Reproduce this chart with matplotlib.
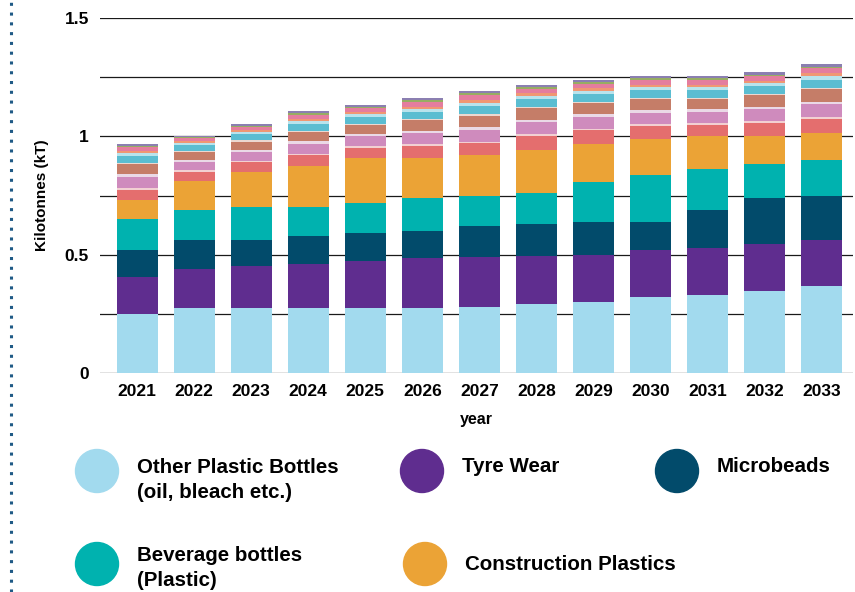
import numpy as np
import matplotlib.pyplot as plt
from matplotlib.patches import Ellipse
from matplotlib.lines import Line2D

plt.rcParams['font.family'] = ['Liberation Sans', 'DejaVu Sans']

years = ['2021', '2022', '2023', '2024', '2025', '2026', '2027',
         '2028', '2029', '2030', '2031', '2032', '2033']

# main sources (kT)
other_bottles = [0.250, 0.276, 0.276, 0.276, 0.276, 0.276, 0.280, 0.293, 0.300, 0.320, 0.330, 0.345, 0.366]
tyre_wear     = [0.155, 0.164, 0.177, 0.184, 0.199, 0.211, 0.210, 0.202, 0.200, 0.200, 0.200, 0.200, 0.194]
microbeads    = [0.115, 0.120, 0.107, 0.120, 0.115, 0.113, 0.130, 0.135, 0.140, 0.120, 0.160, 0.195, 0.190]
beverage      = [0.130, 0.130, 0.140, 0.120, 0.130, 0.140, 0.130, 0.130, 0.166, 0.195, 0.170, 0.143, 0.150]
construction  = [0.080, 0.120, 0.150, 0.175, 0.187, 0.170, 0.170, 0.184, 0.162, 0.155, 0.140, 0.117, 0.116]

# smaller sources stacked on top
minor_1  = [0.045, 0.041, 0.041, 0.045, 0.045, 0.049, 0.050, 0.057, 0.057, 0.053, 0.049, 0.057, 0.058]
minor_2  = [0.008, 0.006, 0.006, 0.007, 0.007, 0.008, 0.008, 0.008, 0.008, 0.008, 0.008, 0.008, 0.008]
minor_3  = [0.045, 0.035, 0.038, 0.042, 0.042, 0.046, 0.050, 0.050, 0.050, 0.049, 0.047, 0.050, 0.053]
minor_4  = [0.012, 0.008, 0.008, 0.010, 0.010, 0.010, 0.011, 0.011, 0.011, 0.011, 0.010, 0.010, 0.010]
minor_5  = [0.041, 0.033, 0.035, 0.040, 0.038, 0.044, 0.049, 0.048, 0.047, 0.047, 0.045, 0.048, 0.053]
minor_6  = [0.005, 0.005, 0.005, 0.005, 0.005, 0.005, 0.005, 0.005, 0.005, 0.005, 0.005, 0.005, 0.005]
minor_7  = [0.030, 0.025, 0.026, 0.030, 0.029, 0.032, 0.035, 0.034, 0.033, 0.033, 0.032, 0.033, 0.037]
minor_8  = [0.012, 0.010, 0.010, 0.012, 0.012, 0.013, 0.014, 0.014, 0.014, 0.013, 0.013, 0.013, 0.015]
minor_9  = [0.008, 0.007, 0.007, 0.008, 0.008, 0.009, 0.010, 0.010, 0.010, 0.010, 0.010, 0.010, 0.012]
minor_10 = [0.020, 0.012, 0.014, 0.018, 0.017, 0.020, 0.022, 0.020, 0.019, 0.020, 0.020, 0.020, 0.020]
minor_11 = [0.005, 0.004, 0.004, 0.005, 0.005, 0.006, 0.007, 0.007, 0.007, 0.007, 0.007, 0.007, 0.008]
minor_12 = [0.008, 0.006, 0.006, 0.008, 0.008, 0.008, 0.010, 0.010, 0.010, 0.010, 0.010, 0.010, 0.010]

legend_names = ['Other Plastic Bottles\n(oil, bleach etc.)', 'Tyre Wear', 'Microbeads',
                'Beverage bottles\n(Plastic)', 'Construction Plastics']

series = [other_bottles, tyre_wear, microbeads, beverage, construction,
          minor_1, minor_2, minor_3, minor_4, minor_5, minor_6,
          minor_7, minor_8, minor_9, minor_10, minor_11, minor_12]
colors = ['#a2daee', '#5f2d8f', '#024b6b', '#00b2af', '#eba336',
          '#e46e6e', '#f2d0d2', '#cf8bbd', '#ead9e6', '#c57d68', '#ecd8d0',
          '#5bbdd1', '#b9e3ec', '#f09773', '#e47d9e', '#97ad62', '#8b7fb1']

fig = plt.figure(figsize=(8.55, 5.92), dpi=100)
ax = fig.add_axes([100/855, (592-373)/592, 753/855, 355/592])

x = np.arange(len(years))
bottom = np.zeros(len(years))
for vals, c in zip(series, colors):
    ax.bar(x, vals, width=0.72, bottom=bottom, color=c, linewidth=0, zorder=3)
    bottom += np.array(vals)

ax.set_xlim(-0.65, 12.55)
ax.set_ylim(0, 1.5)
ax.set_yticks([0, 0.5, 1, 1.5])
ax.set_yticklabels(['0', '0.5', '1', '1.5'])
ax.set_yticks([0.25, 0.75, 1.25], minor=True)
ax.grid(axis='y', which='both', color='#1a1a1a', linewidth=0.9, zorder=0)
ax.set_xticks(x)
ax.set_xticklabels(years)
ax.tick_params(axis='both', which='both', length=0)
ax.tick_params(axis='y', pad=8, labelsize=12.5)
ax.tick_params(axis='x', pad=8, labelsize=12.5)
for lab in ax.get_xticklabels() + ax.get_yticklabels():
    lab.set_fontweight('bold')
for s in ax.spines.values():
    s.set_visible(False)

ax.set_ylabel('Kilotonnes (kT)', fontsize=11, fontweight='bold', labelpad=11)
ax.set_xlabel('year', fontsize=11.5, fontweight='bold', labelpad=9)

# legend drawn by hand below the chart
legend_pos = [(97, 471), (422, 471), (677, 471), (97, 564), (425, 564)]
label_y = [480, 467, 467, 568, 565]
for (cx, cy), ty, name, c in zip(legend_pos, label_y, legend_names, colors[:5]):
    fig.add_artist(Ellipse((cx/855, 1 - cy/592), 43/855, 43/592,
                           transform=fig.transFigure, color=c))
    fig.text((cx + 40)/855, 1 - ty/592, name, fontsize=14.8, fontweight='bold',
             va='center', ha='left', linespacing=1.35)

# dotted rule along the left edge
fig.add_artist(Line2D([11/855, 11/855], [0, 1], transform=fig.transFigure,
                      color='#1f5a86', linestyle=(0, (1, 2.2)), linewidth=2.2))

fig.savefig('out.png', dpi=100)
